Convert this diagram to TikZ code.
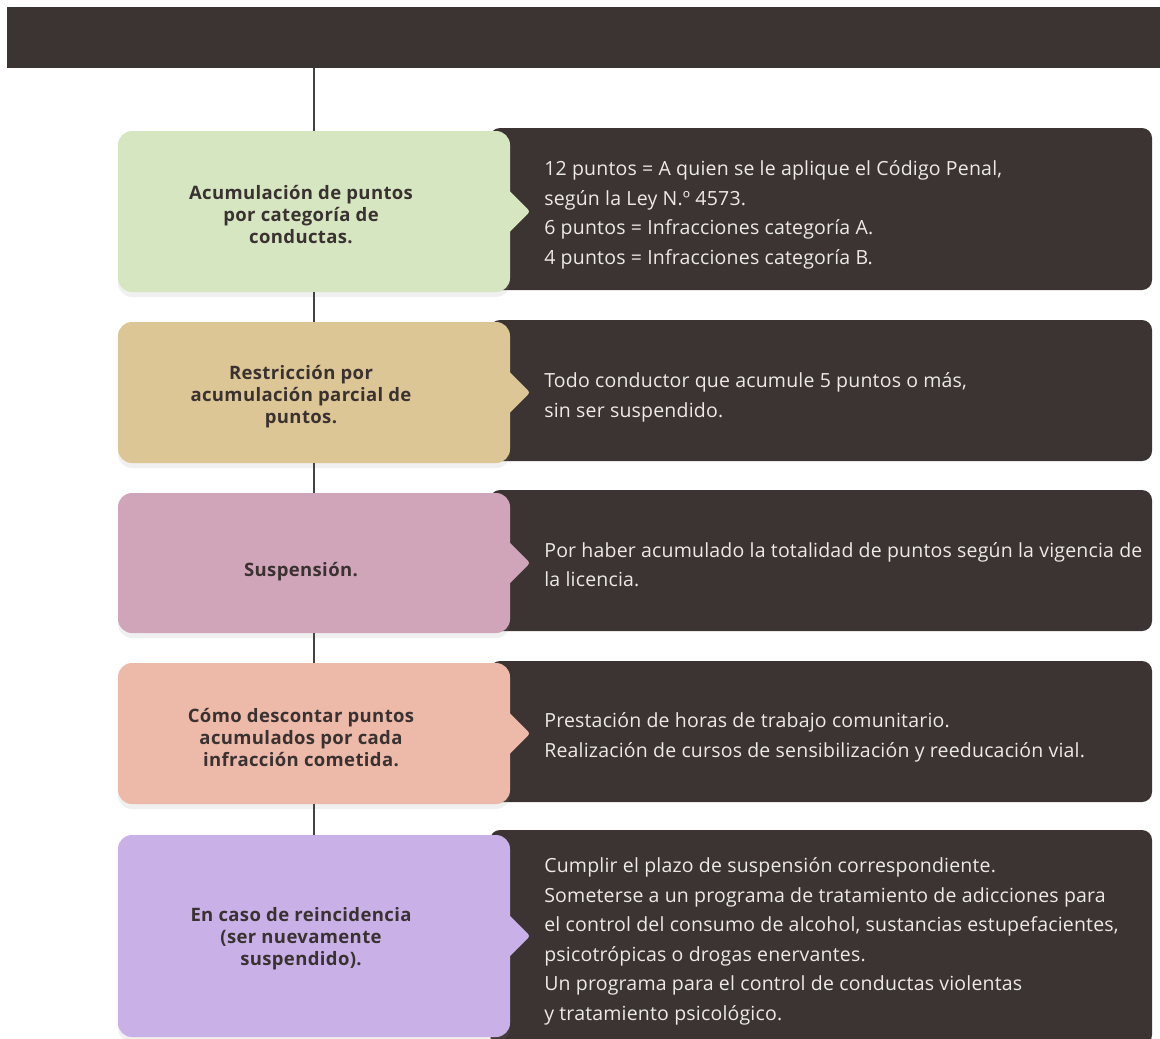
\documentclass[tikz,border=0pt]{standalone}
\usepackage{fontspec}
\setmainfont{Open Sans}
\usetikzlibrary{positioning,shadows}
\definecolor{darkbg}{RGB}{60,52,50}
\definecolor{ink}{RGB}{58,50,48}
\definecolor{paper}{RGB}{236,233,230}
\definecolor{cgreen}{RGB}{213,230,193}
\definecolor{ctan}{RGB}{221,198,149}
\definecolor{cpink}{RGB}{208,164,185}
\definecolor{csalmon}{RGB}{237,186,170}
\definecolor{cpurple}{RGB}{201,177,232}
\definecolor{vline}{RGB}{70,66,64}
\begin{document}
\begin{tikzpicture}[x=1pt, y=-1pt,
		dark/.style={rectangle, fill=darkbg, rounded corners=10pt, inner sep=0pt, minimum width=662pt},
		card/.style={rectangle, rounded corners=14pt, inner sep=0pt, minimum width=392pt,
			drop shadow={opacity=0.12, shadow xshift=0pt, shadow yshift=-5pt}},
		head/.style={font=\bfseries\fontsize{18.5}{22}\selectfont\addfontfeatures{LetterSpace=2}, text=ink, align=center},
		body/.style={font=\fontsize{19.5}{29.5}\selectfont\addfontfeatures{LetterSpace=1}, text=paper, align=left, anchor=west},
		vert/.style={draw=vline, line width=1.4pt}
		]
	\useasboundingbox (0,0) rectangle (1160,1039);
	\node [rectangle, fill=darkbg, inner sep=0pt, minimum width=1153pt, minimum height=61pt] (bar) at (583.5,37.5) {};

	% dark panels
	\node [dark, minimum height=162pt] (dk1) at (821,209) {};
	\node [dark, minimum height=141pt] (dk2) at (821,390.5) {};
	\node [dark, minimum height=141pt] (dk3) at (821,560.5) {};
	\node [dark, minimum height=141pt] (dk4) at (821,731.5) {};
	\node [dark, minimum height=215pt] (dk5) at (821,937.5) {};

	% cards
	\node [card, fill=cgreen, minimum height=161pt] (acum) at (314,211.5) {};
	\node [card, fill=ctan, minimum height=141pt] (restr) at (314,392.5) {};
	\node [card, fill=cpink, minimum height=140pt] (susp) at (314,563) {};
	\node [card, fill=csalmon, minimum height=141pt] (desc) at (314,733.5) {};
	\node [card, fill=cpurple, minimum height=202pt] (reinc) at (314,936) {};

	% timeline
	\draw [vert] (bar.south -| acum.north) -- (acum.north);
	\draw [vert] (acum.south) -- (restr.north);
	\draw [vert] (restr.south) -- (susp.north);
	\draw [vert] (susp.south) -- (desc.north);
	\draw [vert] (desc.south) -- (reinc.north);

	% tabs
	\foreach \c/\col in {acum/cgreen, restr/ctan, susp/cpink, desc/csalmon, reinc/cpurple}
		\fill [\col, rounded corners=3pt] ([xshift=-5pt, yshift=25pt]\c.east) -- ([xshift=20pt]\c.east) -- ([xshift=-5pt, yshift=-25pt]\c.east) -- cycle;

	% headings
	\node [head] (t1) at (301,215) {Acumulación de puntos\\por categoría de\\conductas.};
	\node [head] (t2) at (301,397) {Restricción por\\acumulación parcial de\\puntos.};
	\node [head] (t3) at (301,572) {Suspensión.};
	\node [head] (t4) at (301,738) {Cómo descontar puntos\\acumulados por cada\\infracción cometida.};
	\node [head] (t5) at (301,939) {En caso de reincidencia\\(ser nuevamente\\suspendido).};

	% texts
	\node [body] (b1) at ([xshift=51pt, yshift=-6pt]dk1.west) {12 puntos = A quien se le aplique el Código Penal,\\según la Ley N.º 4573.\\6 puntos = Infracciones categoría A.\\4 puntos = Infracciones categoría B.};
	\node [body] (b2) at ([xshift=51pt, yshift=-7pt]dk2.west) {Todo conductor que acumule 5 puntos o más,\\sin ser suspendido.};
	\node [body] (b3) at ([xshift=51pt, yshift=-4pt]dk3.west) {Por haber acumulado la totalidad de puntos según la vigencia de\\la licencia.};
	\node [body] (b4) at ([xshift=51pt, yshift=-6pt]dk4.west) {Prestación de horas de trabajo comunitario.\\Realización de cursos de sensibilización y reeducación vial.};
	\node [body] (b5) at ([xshift=51pt, yshift=-4pt]dk5.west) {Cumplir el plazo de suspensión correspondiente.\\Someterse a un programa de tratamiento de adicciones para\\el control del consumo de alcohol, sustancias estupefacientes,\\psicotrópicas o drogas enervantes.\\Un programa para el control de conductas violentas\\y tratamiento psicológico.};
\end{tikzpicture}
\end{document}
